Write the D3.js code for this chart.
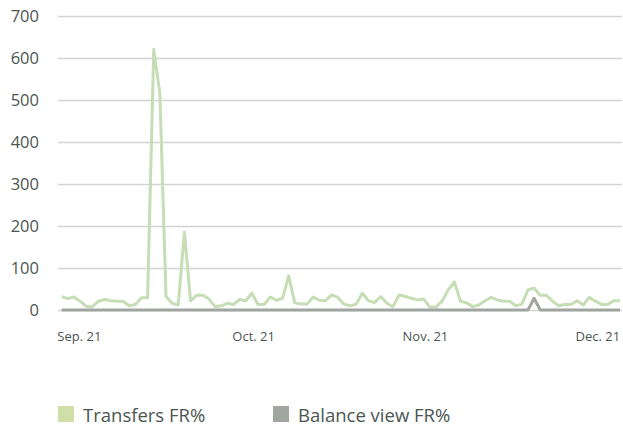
<!DOCTYPE html>
<html>
<head>
<meta charset="utf-8">
<script src="https://cdn.jsdelivr.net/npm/d3@7"></script>
<style>
  body { margin: 0; background: #fff; }
  svg text { font-family: "Open Sans", "Noto Sans", sans-serif; fill: #4b5651; }
</style>
</head>
<body>
<div id="chart"></div>
<script>
// Transfers vs balance view, Sep-Dec 2021

// data, one value per point
var transfers = [32, 27, 31, 21, 9, 8, 21, 25, 22, 21, 21, 10, 13, 29, 29, 620, 516, 32, 16, 12,
    186, 22, 35, 35, 26, 8, 10, 16, 13, 25, 22, 40, 13, 13, 31, 23, 28, 81, 17, 14,
    14, 31, 23, 22, 36, 30, 14, 10, 14, 40, 22, 18, 32, 16, 8, 36, 32, 28, 24, 26,
    7, 7, 21, 48, 67, 21, 17, 8, 12, 22, 30, 24, 21, 21, 10, 14, 48, 52, 35, 35,
    21, 10, 13, 13, 22, 12, 30, 21, 13, 13, 22, 22];
var balanceView = [0, 0, 0, 0, 0, 0, 0, 0, 0, 0, 0, 0, 0, 0, 0, 0, 0, 0, 0, 0,
    0, 0, 0, 0, 0, 0, 0, 0, 0, 0, 0, 0, 0, 0, 0, 0, 0, 0, 0, 0,
    0, 0, 0, 0, 0, 0, 0, 0, 0, 0, 0, 0, 0, 0, 0, 0, 0, 0, 0, 0,
    0, 0, 0, 0, 0, 0, 0, 0, 0, 0, 0, 0, 0, 0, 0, 0, 0, 28, 0, 0,
    0, 0, 0, 0, 0, 0, 0, 0, 0, 0, 0, 0];

var monthLabels = ["Sep. 21", "Oct. 21", "Nov. 21", "Dec. 21"];
var monthIndex = [2.8, 31.2, 59.2, 87.3];
var yTicks = [0, 100, 200, 300, 400, 500, 600, 700];
var seriesNames = ["Transfers FR%", "Balance view FR%"];
var seriesColors = ["#c6deb6", "#9fa59f"];
var legendColors = ["#cfdfa8", "#a0a59f"];

var width = 623, height = 426;
var plotLeft = 58, plotRight = 622, plotTop = 16, plotBottom = 310;

var svg = d3.select("#chart").append("svg")
    .attr("width", width)
    .attr("height", height);

var x = d3.scaleLinear()
    .domain([0, transfers.length - 1])
    .range([61.7, 620]);

var y = d3.scaleLinear()
    .domain([0, 700])
    .range([plotBottom, plotTop]);

// gridlines + y labels
var yAxis = svg.append("g")
    .attr("transform", "translate(" + plotLeft + ",0)")
    .call(d3.axisLeft(y).tickValues(yTicks).tickSize(-(plotRight - plotLeft)).tickPadding(19));
yAxis.select(".domain").remove();
yAxis.selectAll("line").attr("stroke", "#d3d3d3").attr("stroke-width", 1.3);
yAxis.selectAll("text").style("font-size", "16.5px");

// month labels
var xAxis = svg.append("g")
    .attr("transform", "translate(0," + plotBottom + ")")
    .call(d3.axisBottom(x).tickValues(monthIndex)
        .tickFormat(function(d, i) { return monthLabels[i]; })
        .tickSize(0).tickPadding(22));
xAxis.select(".domain").remove();
xAxis.selectAll("text").style("font-size", "13px");

var line = d3.line()
    .x(function(d, i) { return x(i); })
    .y(function(d) { return y(d); });

svg.append("path")
    .datum(transfers)
    .attr("fill", "none")
    .attr("stroke", seriesColors[0])
    .attr("stroke-width", 3)
    .attr("stroke-linejoin", "round")
    .attr("d", line);

svg.append("path")
    .datum(balanceView)
    .attr("fill", "none")
    .attr("stroke", seriesColors[1])
    .attr("stroke-width", 3)
    .attr("stroke-linejoin", "round")
    .attr("d", line);

// legend
var legendX = [58, 273];
for (let i = 0; i < seriesNames.length; i++) {
    let g = svg.append("g").attr("transform", "translate(" + legendX[i] + ",406)");
    g.append("rect")
        .attr("width", 16)
        .attr("height", 16)
        .attr("fill", legendColors[i]);
    g.append("text")
        .attr("x", 25)
        .attr("y", 15.5)
        .style("font-size", "18.5px")
        .text(seriesNames[i]);
}
</script>
</body>
</html>
